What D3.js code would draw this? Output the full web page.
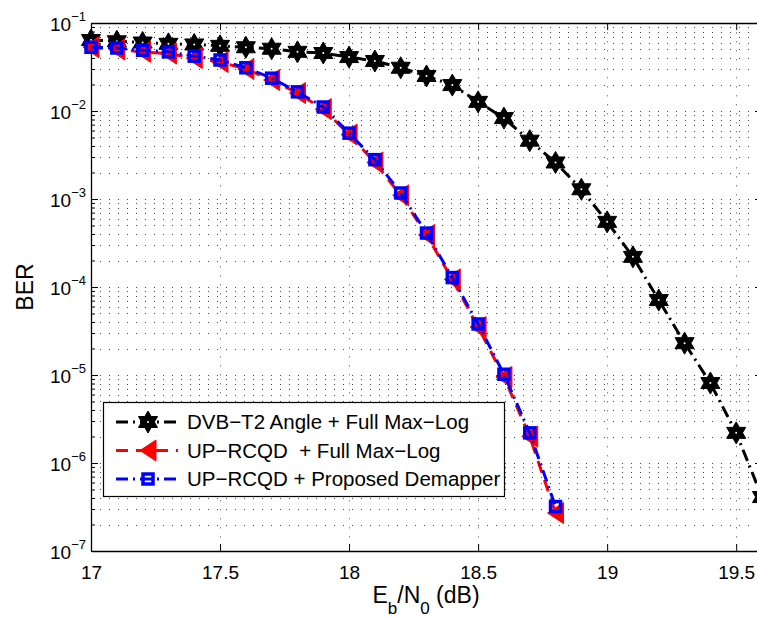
<!DOCTYPE html>
<html>
<head>
<meta charset="utf-8">
<script src="https://cdn.jsdelivr.net/npm/d3@7"></script>
<style>
  html, body { margin: 0; padding: 0; background: #fff; }
  svg { display: block; font-family: "Liberation Sans", Arial, Helvetica, sans-serif; }
</style>
</head>
<body>
<svg id="chart" width="757" height="620"></svg>
<script>
// ---------------- data ----------------
const ebn0Dvb = [17.0, 17.1, 17.2, 17.3, 17.4, 17.5, 17.6, 17.7, 17.8, 17.9,
                 18.0, 18.1, 18.2, 18.3, 18.4, 18.5, 18.6, 18.7, 18.8, 18.9,
                 19.0, 19.1, 19.2, 19.3, 19.4, 19.5, 19.6];
const berDvb = [0.064, 0.062, 0.060, 0.058, 0.057, 0.055, 0.053, 0.051, 0.047, 0.0456,
                0.041, 0.037, 0.031, 0.025, 0.0197, 0.0127, 0.0083, 0.0046, 0.0026, 0.00129,
                0.00055, 0.00022, 7.1e-5, 2.3e-5, 8.1e-6, 2.2e-6, 4.1e-7];

const ebn0Rcqd = [17.0, 17.1, 17.2, 17.3, 17.4, 17.5, 17.6, 17.7, 17.8, 17.9,
                  18.0, 18.1, 18.2, 18.3, 18.4, 18.5, 18.6, 18.7, 18.8];
const berRcqdFull = [0.053, 0.050, 0.047, 0.045, 0.040, 0.036, 0.030, 0.0225, 0.016, 0.0105,
                     0.0054, 0.0026, 0.0011, 0.00039, 0.000122, 3.5e-5, 9.5e-6, 2.0e-6, 2.7e-7];
const berRcqdProp = [0.053, 0.052, 0.049, 0.047, 0.042, 0.038, 0.031, 0.0236, 0.0165, 0.0111,
                     0.0056, 0.0028, 0.00117, 0.00041, 0.000128, 3.8e-5, 1.02e-5, 2.2e-6, 3.2e-7];

const xTicks = [17, 17.5, 18, 18.5, 19, 19.5];
const xTickLabels = ["17", "17.5", "18", "18.5", "19", "19.5"];
const yExponents = [-7, -6, -5, -4, -3, -2, -1];
const legendLabels = ["DVB\u2212T2 Angle + Full Max\u2212Log",
                      "UP\u2212RCQD  + Full Max\u2212Log",
                      "UP\u2212RCQD + Proposed Demapper"];

// ---------------- layout ----------------
const svg = d3.select("#chart");
const L = 91, T = 23, R = 762, B = 551;
const x = d3.scaleLinear().domain([17, 19.6]).range([L, R]);
const y = d3.scaleLog().domain([1e-7, 1e-1]).range([B, T]);

svg.append("rect").attr("width", 757).attr("height", 620).attr("fill", "#fff");

const yMajor = yExponents.map(e => Math.pow(10, e));
const yMinor = [];
yExponents.slice(0, -1).forEach(e => {
  for (let m = 2; m <= 9; m++) yMinor.push(m * Math.pow(10, e));
});

// grid
const grid = svg.append("g");
grid.selectAll("line.hg").data(yMajor.concat(yMinor)).enter().append("line")
  .attr("x1", L).attr("x2", R)
  .attr("y1", d => Math.round(y(d)) + 0.5).attr("y2", d => Math.round(y(d)) + 0.5)
  .attr("stroke", "#444").attr("stroke-width", 1)
  .attr("stroke-dasharray", "1,8");
grid.selectAll("line.vg").data(xTicks.slice(1)).enter().append("line")
  .attr("x1", d => Math.round(x(d)) + 0.5).attr("x2", d => Math.round(x(d)) + 0.5)
  .attr("y1", T).attr("y2", B)
  .attr("stroke", "#888").attr("stroke-width", 1)
  .attr("stroke-dasharray", "1.5,7.5");

// axes (inward ticks)
const axG = svg.append("g");
const xAxisB = d3.axisBottom(x).tickValues(xTicks).tickFormat((d, i) => xTickLabels[i])
  .tickSizeInner(-7).tickSizeOuter(0).tickPadding(15);
const gxb = axG.append("g").attr("transform", `translate(0,${B})`).call(xAxisB);
gxb.selectAll("text").attr("font-size", 19).attr("fill", "#000")
  .attr("font-family", "Liberation Sans, Arial, sans-serif");
const xAxisT = d3.axisTop(x).tickValues(xTicks).tickFormat("")
  .tickSizeInner(-7).tickSizeOuter(0);
axG.append("g").attr("transform", `translate(0,${T})`).call(xAxisT);

const yAxisL = d3.axisLeft(y).tickValues(yMajor).tickFormat("")
  .tickSizeInner(-7).tickSizeOuter(0);
axG.append("g").attr("transform", `translate(${L},0)`).call(yAxisL);
const yAxisLm = d3.axisLeft(y).tickValues(yMinor).tickFormat("")
  .tickSizeInner(-4).tickSizeOuter(0);
const gym = axG.append("g").attr("transform", `translate(${L},0)`).call(yAxisLm);
gym.select(".domain").remove();
const yAxisR = d3.axisRight(y).tickValues(yMajor).tickFormat("")
  .tickSizeInner(-7).tickSizeOuter(0);
axG.append("g").attr("transform", `translate(${R},0)`).call(yAxisR);
const yAxisRm = d3.axisRight(y).tickValues(yMinor).tickFormat("")
  .tickSizeInner(-4).tickSizeOuter(0);
const gyrm = axG.append("g").attr("transform", `translate(${R},0)`).call(yAxisRm);
gyrm.select(".domain").remove();
axG.selectAll(".domain").attr("stroke", "#000").attr("stroke-width", 1.3);
axG.selectAll(".tick line").attr("stroke", "#000").attr("stroke-width", 1);

// y tick labels: 10^e
const ylab = svg.append("g");
yExponents.forEach(e => {
  const t = ylab.append("text")
    .attr("x", 86).attr("y", y(Math.pow(10, e)) + 8)
    .attr("text-anchor", "end").attr("fill", "#000");
  t.append("tspan").attr("font-size", 19).text("10");
  t.append("tspan").attr("font-size", 13).attr("dy", -10).text("\u2212" + Math.abs(e));
});

// axis titles
svg.append("text")
  .attr("transform", "translate(33,287) rotate(-90)")
  .attr("text-anchor", "middle").attr("font-size", 23).attr("fill", "#000")
  .text("BER");
const xl = svg.append("text").attr("x", 426).attr("y", 603)
  .attr("text-anchor", "middle").attr("font-size", 23).attr("fill", "#000");
xl.append("tspan").text("E");
xl.append("tspan").attr("font-size", 17).attr("dy", 11).text("b");
xl.append("tspan").attr("dy", -11).text("/N");
xl.append("tspan").attr("font-size", 17).attr("dy", 11).text("0");
xl.append("tspan").attr("dy", -11).text(" (dB)");

// ---------------- series ----------------
svg.append("defs").append("clipPath").attr("id", "clip")
  .append("rect").attr("x", L - 20).attr("y", T - 20).attr("width", R - L + 40).attr("height", B - T + 40);

function hexagram(r) {
  const pts = [];
  for (let k = 0; k < 12; k++) {
    const a = -Math.PI / 2 + k * Math.PI / 6;
    const rr = (k % 2 === 0) ? r : r / Math.sqrt(3);
    pts.push([rr * Math.cos(a), rr * Math.sin(a)]);
  }
  return "M" + pts.map(p => p[0].toFixed(2) + "," + p[1].toFixed(2)).join("L") + "Z";
}
const starPath = hexagram(11);
const triPath = "M-8,0L8,-10.5L8,10.5Z";

const series = [
  { xs: ebn0Dvb, ys: berDvb, color: "#000", dash: "12,5,2,5", marker: "star" },
  { xs: ebn0Rcqd, ys: berRcqdFull, color: "#ff0000", dash: "12,8", marker: "tri" },
  { xs: ebn0Rcqd, ys: berRcqdProp, color: "#0000ff", dash: "12,5,2,5", marker: "sq" }
];

const plot = svg.append("g").attr("clip-path", "url(#clip)");
const lineGen = d3.line().x(d => x(d[0])).y(d => y(d[1]));

function drawMarker(g, type, color) {
  if (type === "star") {
    g.append("path").attr("d", starPath).attr("fill", "#000")
      .attr("stroke", "#000").attr("stroke-width", 1);
    g.append("circle").attr("r", 1).attr("fill", "#fff");
  } else if (type === "tri") {
    g.append("path").attr("d", triPath).attr("fill", color)
      .attr("stroke", color).attr("stroke-width", 1);
  } else {
    g.append("rect").attr("x", -5).attr("y", -5).attr("width", 10).attr("height", 10)
      .attr("fill", "none").attr("stroke", color).attr("stroke-width", 3.5);
  }
}

series.forEach(s => {
  const pts = s.xs.map((v, i) => [v, s.ys[i]]);
  plot.append("path").datum(pts).attr("d", lineGen)
    .attr("fill", "none").attr("stroke", s.color).attr("stroke-width", 3)
    .attr("stroke-dasharray", s.dash);
  const mk = plot.selectAll(null).data(pts).enter().append("g")
    .attr("transform", d => `translate(${x(d[0])},${y(d[1])})`);
  mk.each(function () { drawMarker(d3.select(this), s.marker, s.color); });
});

// ---------------- legend ----------------
const lg = svg.append("g");
lg.append("rect").attr("x", 103.5).attr("y", 402.5).attr("width", 401).attr("height", 94)
  .attr("fill", "#fff").attr("stroke", "#000").attr("stroke-width", 1.2);
series.forEach((s, i) => {
  const cy = 422 + i * 28.5;
  lg.append("line").attr("x1", 116).attr("x2", 178).attr("y1", cy).attr("y2", cy)
    .attr("stroke", s.color).attr("stroke-width", 3).attr("stroke-dasharray", s.dash);
  const g = lg.append("g").attr("transform", `translate(148,${cy})`);
  drawMarker(g, s.marker, s.color);
  lg.append("text").attr("x", 187).attr("y", cy + 7).attr("font-size", 20.5)
    .attr("fill", "#000").style("white-space", "pre").text(legendLabels[i]);
});
</script>
</body>
</html>
